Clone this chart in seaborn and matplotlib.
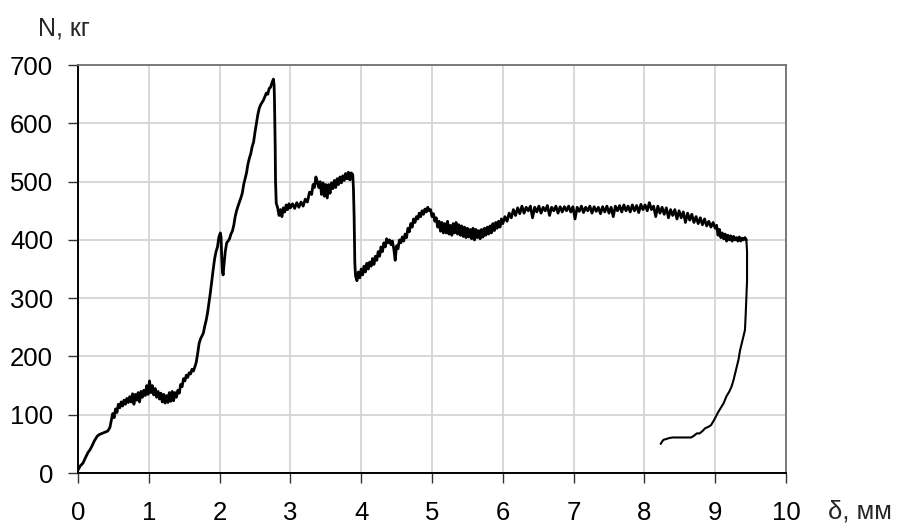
import matplotlib
matplotlib.use("Agg")
import matplotlib.pyplot as plt
import seaborn as sns

# Нагружение: деформация (мм) и усилие (кг)
load_x = [0.00, 0.03, 0.07, 0.10, 0.14, 0.17, 0.20, 0.23, 0.27, 0.30, 0.34, 0.38, 0.42, 0.45, 0.47, 0.49,
          0.51, 0.53, 0.55, 0.57, 0.59, 0.61, 0.63, 0.65, 0.67, 0.69, 0.71, 0.73, 0.75, 0.77, 0.79,
          0.81, 0.83, 0.85, 0.87, 0.89, 0.91, 0.93, 0.95, 0.97, 0.99, 1.01, 1.03, 1.05, 1.07, 1.09,
          1.11, 1.13, 1.15, 1.17, 1.19, 1.21, 1.23, 1.25, 1.27, 1.29, 1.31, 1.33, 1.35, 1.37, 1.39,
          1.41, 1.43, 1.45, 1.47, 1.49, 1.51, 1.53, 1.55, 1.57, 1.59, 1.61, 1.63, 1.65, 1.67, 1.69,
          1.71, 1.73, 1.75, 1.77, 1.79, 1.81, 1.83, 1.85, 1.87, 1.89, 1.91, 1.93, 1.95, 1.97, 1.99,
          2.01, 2.02, 2.03, 2.04, 2.05, 2.06, 2.08, 2.10, 2.12, 2.14, 2.16, 2.18, 2.20, 2.22, 2.24,
          2.26, 2.28, 2.30, 2.32, 2.34, 2.36, 2.38, 2.40, 2.42, 2.44, 2.46, 2.48, 2.50, 2.52, 2.54,
          2.56, 2.58, 2.60, 2.62, 2.64, 2.66, 2.68, 2.70, 2.72, 2.74, 2.76, 2.77, 2.775, 2.78, 2.785,
          2.79, 2.80, 2.82, 2.84, 2.86, 2.88, 2.90, 2.92, 2.94, 2.96, 2.98, 3.00, 3.03, 3.06, 3.09,
          3.12, 3.15, 3.18, 3.21, 3.24, 3.27, 3.30, 3.32, 3.34, 3.36, 3.38, 3.40, 3.42, 3.44, 3.46,
          3.48, 3.50, 3.52, 3.54, 3.56, 3.58, 3.60, 3.62, 3.64, 3.66, 3.68, 3.70, 3.72, 3.74, 3.76,
          3.78, 3.80, 3.82, 3.84, 3.86, 3.88, 3.89, 3.90, 3.905, 3.91, 3.92, 3.94, 3.96, 3.98, 4.00,
          4.02, 4.04, 4.06, 4.08, 4.10, 4.12, 4.14, 4.16, 4.18, 4.20, 4.22, 4.24, 4.26, 4.28, 4.30,
          4.32, 4.34, 4.36, 4.38, 4.40, 4.42, 4.44, 4.46, 4.48, 4.50, 4.52, 4.54, 4.56, 4.58, 4.60,
          4.62, 4.64, 4.66, 4.68, 4.70, 4.72, 4.74, 4.76, 4.78, 4.80, 4.82, 4.84, 4.86, 4.88, 4.90,
          4.92, 4.94, 4.96, 4.98, 5.00, 5.02, 5.04, 5.06, 5.08, 5.10, 5.12, 5.14, 5.16, 5.18, 5.20,
          5.22, 5.24, 5.26, 5.28, 5.30, 5.32, 5.34, 5.36, 5.38, 5.40, 5.42, 5.44, 5.46, 5.48, 5.50,
          5.52, 5.54, 5.56, 5.58, 5.60, 5.62, 5.64, 5.66, 5.68, 5.70, 5.72, 5.74, 5.76, 5.78, 5.80,
          5.82, 5.84, 5.86, 5.88, 5.90, 5.92, 5.94, 5.96, 5.98, 6.00, 6.03, 6.06, 6.09, 6.12, 6.15,
          6.18, 6.21, 6.24, 6.27, 6.30, 6.33, 6.36, 6.39, 6.42, 6.45, 6.48, 6.51, 6.54, 6.57, 6.60,
          6.63, 6.66, 6.69, 6.72, 6.75, 6.78, 6.81, 6.84, 6.87, 6.90, 6.93, 6.96, 6.99, 7.02, 7.05,
          7.08, 7.11, 7.14, 7.17, 7.20, 7.23, 7.26, 7.29, 7.32, 7.35, 7.38, 7.41, 7.44, 7.47, 7.50,
          7.53, 7.56, 7.59, 7.62, 7.65, 7.68, 7.71, 7.74, 7.77, 7.80, 7.83, 7.86, 7.89, 7.92, 7.95,
          7.98, 8.01, 8.04, 8.07, 8.10, 8.13, 8.16, 8.19, 8.22, 8.25, 8.28, 8.31, 8.34, 8.37, 8.40,
          8.43, 8.46, 8.49, 8.52, 8.55, 8.58, 8.61, 8.64, 8.67, 8.70, 8.73, 8.76, 8.79, 8.82, 8.85,
          8.88, 8.91, 8.94, 8.97, 9.00, 9.02, 9.04, 9.06, 9.08, 9.10, 9.12, 9.14, 9.16, 9.18, 9.20,
          9.22, 9.24, 9.26, 9.28, 9.30, 9.32, 9.34, 9.36, 9.38, 9.40, 9.42, 9.44]
load_y = [5, 12, 17, 25, 35, 40, 47, 55, 63, 66, 68, 70, 72, 78, 90, 102,
          95, 110, 104, 118, 112, 122, 115, 125, 118, 128, 121, 131, 122, 136, 118,
          135, 125, 138, 122, 140, 130, 142, 133, 150, 135, 158, 138, 150, 134, 145,
          130, 140, 127, 137, 122, 135, 120, 133, 121, 138, 123, 140, 124, 138, 130,
          142, 137, 152, 148, 162, 158, 168, 164, 172, 170, 178, 175, 182, 190, 205,
          222, 230, 235, 240, 252, 262, 275, 292, 310, 330, 350, 368, 380, 388, 405,
          412, 405, 370, 345, 340, 355, 380, 395, 398, 402, 410, 415, 425, 440, 450,
          458, 465, 472, 480, 495, 505, 515, 530, 540, 548, 560, 568, 585, 600, 615,
          626, 632, 636, 640, 646, 652, 650, 660, 662, 670, 676, 665, 640, 605, 560,
          500, 463, 455, 442, 452, 440, 455, 448, 460, 452, 462, 455, 462, 454, 464,
          456, 465, 458, 470, 465, 482, 478, 495, 490, 508, 500, 490, 500, 478, 498,
          475, 495, 472, 495, 480, 498, 488, 502, 490, 505, 495, 508, 498, 510, 502,
          514, 505, 516, 503, 515, 512, 490, 440, 400, 360, 338, 330, 345, 335, 350,
          340, 355, 345, 360, 350, 362, 355, 368, 358, 372, 365, 380, 372, 388, 380,
          395, 388, 402, 395, 400, 392, 398, 385, 365, 390, 385, 400, 395, 405, 398,
          410, 404, 420, 414, 428, 422, 436, 430, 440, 436, 446, 440, 450, 444, 453,
          448, 456, 450, 452, 440, 445, 432, 438, 422, 432, 415, 430, 412, 428, 412,
          432, 410, 425, 408, 428, 412, 430, 410, 426, 408, 424, 406, 422, 404, 420,
          405, 418, 402, 420, 400, 418, 404, 416, 402, 418, 405, 420, 408, 422, 410,
          424, 412, 428, 416, 430, 420, 432, 422, 436, 428, 440, 432, 446, 438, 452,
          442, 455, 445, 458, 446, 456, 450, 458, 438, 456, 448, 458, 446, 456, 450,
          459, 442, 456, 450, 458, 446, 457, 448, 457, 450, 458, 448, 457, 436, 456,
          449, 458, 447, 456, 450, 458, 446, 457, 449, 456, 445, 457, 448, 458, 446,
          456, 440, 458, 450, 459, 448, 460, 450, 458, 448, 460, 450, 459, 447, 461,
          452, 460, 450, 464, 452, 458, 440, 458, 446, 456, 444, 455, 438, 452, 442,
          452, 436, 450, 438, 448, 430, 446, 434, 444, 430, 440, 428, 438, 426, 436,
          424, 432, 422, 430, 420, 425, 408, 418, 404, 412, 402, 410, 398, 408, 400,
          407, 398, 406, 400, 404, 398, 405, 398, 403, 400, 404, 400]

# Разгрузка (кривая идёт назад по деформации)
unload_x = [9.44, 9.45, 9.45, 9.44, 9.43, 9.42, 9.40, 9.37, 9.35, 9.33, 9.31, 9.28, 9.26, 9.23,
            9.20, 9.16, 9.12, 9.08, 9.04, 9.01, 8.98, 8.94, 8.90, 8.86, 8.82, 8.78, 8.74, 8.70,
            8.66, 8.60, 8.50, 8.40, 8.35, 8.30, 8.27, 8.25, 8.23]
unload_y = [400, 380, 330, 300, 270, 245, 235, 220, 210, 195, 185, 170, 160, 148,
            140, 132, 120, 112, 104, 97, 90, 82, 79, 77, 72, 68, 68, 64,
            61, 61, 61, 61, 60, 58, 57, 54, 50]

x_ticks = [0, 1, 2, 3, 4, 5, 6, 7, 8, 9, 10]
y_ticks = [0, 100, 200, 300, 400, 500, 600, 700]

sns.set_theme(style="whitegrid")
plt.rcParams['font.family'] = ['Liberation Sans', 'DejaVu Sans']

fig, ax = plt.subplots(figsize=(9.05, 5.25), dpi=100)
fig.subplots_adjust(left=0.0862, right=0.8685, bottom=0.099, top=0.876)

sns.lineplot(x=load_x, y=load_y, sort=False, estimator=None, color='black', linewidth=2.0, ax=ax)
sns.lineplot(x=unload_x, y=unload_y, sort=False, estimator=None, color='black', linewidth=1.5, ax=ax)

ax.set_xlim(0, 10)
ax.set_ylim(0, 700)
ax.set_xticks(x_ticks)
ax.set_yticks(y_ticks)
ax.grid(True, color='#d4d4d4', linewidth=1.3)
ax.set_facecolor('white')

for side in ['left', 'bottom']:
    ax.spines[side].set_color('black')
    ax.spines[side].set_linewidth(1.4)
for side in ['top', 'right']:
    ax.spines[side].set_color('#707070')
    ax.spines[side].set_linewidth(1.3)

ax.tick_params(axis='x', direction='out', length=7, width=1, color='#333333', pad=13, labelsize=18.5, labelcolor='black')
ax.tick_params(axis='y', direction='out', length=7, width=1, color='#333333', pad=11, labelsize=18.5, labelcolor='black')
ax.tick_params(bottom=True, left=True)

ax.set_xlabel('')
ax.set_ylabel('')
# подписи осей
fig.text(0.915, 0.025, 'δ, мм', fontsize=18.5, ha='left', va='center')
fig.text(0.042, 0.945, 'N, кг', fontsize=18, ha='left', va='center')

fig.savefig('out.png', dpi=100)
